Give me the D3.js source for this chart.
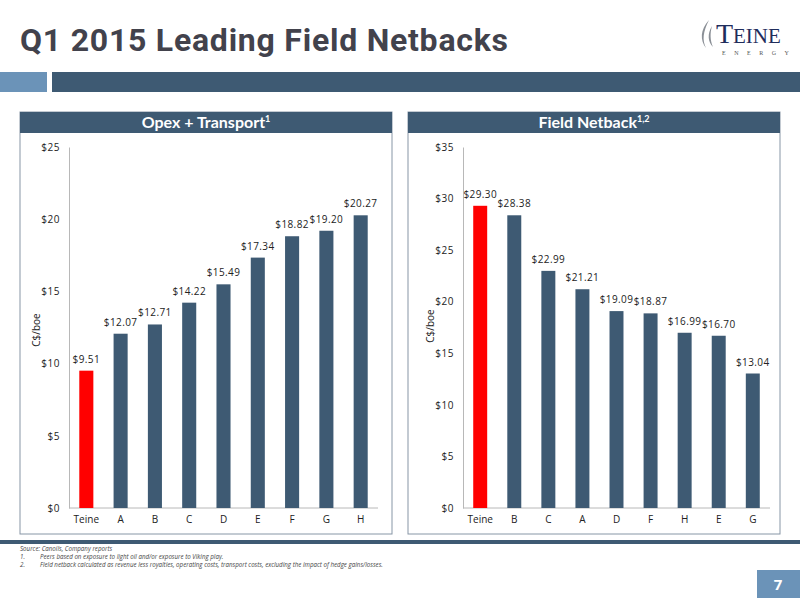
<!DOCTYPE html>
<html>
<head>
<meta charset="utf-8">
<script src="https://cdn.jsdelivr.net/npm/d3@7/dist/d3.min.js"></script>
<style>
  body { margin: 0; background: #fff; }
  svg { display: block; }
</style>
</head>
<body>
<svg id="slide" width="800" height="600"></svg>
<script>
// chart data
const opexCategories = ['Teine', 'A', 'B', 'C', 'D', 'E', 'F', 'G', 'H'];
const opexValues = [9.51, 12.07, 12.71, 14.22, 15.49, 17.34, 18.82, 19.20, 20.27];
const opexTicks = [0, 5, 10, 15, 20, 25];

const netbackCategories = ['Teine', 'B', 'C', 'A', 'D', 'F', 'H', 'E', 'G'];
const netbackValues = [29.30, 28.38, 22.99, 21.21, 19.09, 18.87, 16.99, 16.70, 13.04];
const netbackTicks = [0, 5, 10, 15, 20, 25, 30, 35];

const footnotes = [
    'Peers based on exposure to light oil and/or exposure to Viking play.',
    'Field netback calculated as revenue less royalties, operating costs, transport costs, excluding the impact of hedge gains/losses.'
];

const DARK = '#3e5a73';
const LIGHT = '#6b93b8';
const RED = '#ff0000';
const FONT = '"Open Sans", Lato, sans-serif';

const svg = d3.select('#slide');

// Title
svg.append('text')
    .attr('x', 20).attr('y', 51)
    .attr('font-family', 'Roboto, sans-serif')
    .attr('font-weight', 700)
    .attr('font-size', 32)
    .attr('textLength', 488)
    .attr('lengthAdjust', 'spacing')
    .attr('fill', '#42424c')
    .text('Q1 2015 Leading Field Netbacks');

// Logo
const logo = svg.append('g');
logo.append('path')
    .attr('d', 'M709,20 C700,30 700,40 706,48 C702,40 703,32 709,20 Z M712,26 C707,34 708,42 713,47 C710,40 710,33 712,26 Z')
    .attr('fill', '#8a8f96');
logo.append('text')
    .attr('x', 716).attr('y', 43)
    .attr('font-family', '"Liberation Serif", serif')
    .attr('font-size', 28)
    .attr('fill', '#1f2d5c')
    .text('T');
logo.append('text')
    .attr('x', 733).attr('y', 43)
    .attr('font-family', '"Liberation Serif", serif')
    .attr('font-size', 21)
    .attr('fill', '#1f2d5c')
    .text('EINE');
logo.append('text')
    .attr('x', 722).attr('y', 55)
    .attr('font-family', '"Liberation Serif", serif')
    .attr('font-size', 6)
    .attr('letter-spacing', 8.5)
    .attr('fill', '#555')
    .text('ENERGY');

// Top band
svg.append('rect').attr('x', 0).attr('y', 72).attr('width', 47).attr('height', 20).attr('fill', LIGHT);
svg.append('rect').attr('x', 52).attr('y', 72).attr('width', 748).attr('height', 20).attr('fill', DARK);

// Bottom rule
svg.append('rect').attr('x', 0).attr('y', 540).attr('width', 800).attr('height', 4).attr('fill', DARK);

// Footnotes
const notes = svg.append('g')
    .attr('font-family', FONT)
    .attr('font-size', 6.2)
    .attr('font-style', 'italic')
    .attr('fill', '#444');
notes.append('text').attr('x', 20).attr('y', 551).text('Source: Canoils, Company reports');
footnotes.forEach((t, i) => {
    notes.append('text').attr('x', 20).attr('y', 559 + i * 8).text((i + 1) + '.');
    notes.append('text').attr('x', 40).attr('y', 559 + i * 8).text(t);
});

// Page number
svg.append('rect').attr('x', 757).attr('y', 570).attr('width', 43).attr('height', 28).attr('fill', LIGHT);
svg.append('text')
    .attr('x', 778).attr('y', 590)
    .attr('text-anchor', 'middle')
    .attr('font-family', FONT)
    .attr('font-weight', 700)
    .attr('font-size', 15)
    .attr('fill', '#fff')
    .text('7');

// One panel with header and bar chart
function drawPanel(opts) {
    const g = svg.append('g');

    g.append('rect')
        .attr('x', opts.x).attr('y', 112)
        .attr('width', opts.w).attr('height', 422)
        .attr('fill', '#fff')
        .attr('stroke', '#8796a6')
        .attr('stroke-width', 1);
    g.append('rect')
        .attr('x', opts.x).attr('y', 112)
        .attr('width', opts.w).attr('height', 21)
        .attr('fill', DARK);

    const head = g.append('text')
        .attr('x', opts.x + opts.w / 2).attr('y', 128)
        .attr('text-anchor', 'middle')
        .attr('font-family', 'Lato, sans-serif')
        .attr('font-weight', 700)
        .attr('font-size', 16)
        .attr('fill', '#fff');
    head.append('tspan').text(opts.title);
    head.append('tspan')
        .attr('dy', -6)
        .attr('font-size', 9)
        .text(opts.sup);

    const x = d3.scaleBand()
        .domain(opts.categories)
        .range([opts.left, opts.right])
        .paddingInner(0.59)
        .paddingOuter(0.3);

    const y = d3.scaleLinear()
        .domain([0, d3.max(opts.ticks)])
        .range([508, 147]);

    // y axis
    const yAxis = g.append('g')
        .attr('transform', `translate(${opts.left},0)`)
        .call(d3.axisLeft(y).tickValues(opts.ticks).tickSize(0).tickPadding(9).tickFormat(d => '$' + d));
    yAxis.select('.domain').attr('stroke', '#b8b8b8');
    yAxis.selectAll('text')
        .attr('font-family', FONT)
        .attr('font-size', 10)
        .attr('letter-spacing', 0.5)
        .attr('fill', '#222');

    // x axis
    const xAxis = g.append('g')
        .attr('transform', 'translate(0,508)')
        .call(d3.axisBottom(x).tickSize(0).tickPadding(8));
    xAxis.select('.domain').attr('stroke', '#b8b8b8').attr('d', `M${opts.left},0H${opts.right}`);
    xAxis.selectAll('text')
        .attr('font-family', FONT)
        .attr('font-size', 10)
        .attr('fill', '#222');

    // y label
    g.append('text')
        .attr('transform', `translate(${opts.left - 29},${opts.labelY}) rotate(-90)`)
        .attr('text-anchor', 'middle')
        .attr('font-family', FONT)
        .attr('font-size', 10)
        .attr('fill', '#222')
        .text('C$/boe');

    // bars
    g.selectAll('.bar')
        .data(opts.values)
        .enter()
        .append('rect')
        .attr('class', 'bar')
        .attr('x', (d, i) => x(opts.categories[i]))
        .attr('y', d => y(d))
        .attr('width', x.bandwidth())
        .attr('height', d => 508 - y(d))
        .attr('fill', (d, i) => opts.categories[i] === 'Teine' ? RED : DARK);

    // value labels
    g.selectAll('.val')
        .data(opts.values)
        .enter()
        .append('text')
        .attr('class', 'val')
        .attr('x', (d, i) => x(opts.categories[i]) + x.bandwidth() / 2)
        .attr('y', d => y(d) - 8)
        .attr('text-anchor', 'middle')
        .attr('font-family', FONT)
        .attr('font-size', 10)
        .attr('letter-spacing', 0.4)
        .attr('fill', '#222')
        .text(d => '$' + d.toFixed(2));
}

drawPanel({
    x: 20, w: 372, left: 69, right: 378, labelY: 330,
    title: 'Opex + Transport', sup: '1',
    categories: opexCategories, values: opexValues, ticks: opexTicks
});

drawPanel({
    x: 408, w: 372, left: 463, right: 770, labelY: 326,
    title: 'Field Netback', sup: '1,2',
    categories: netbackCategories, values: netbackValues, ticks: netbackTicks
});
</script>
</body>
</html>
